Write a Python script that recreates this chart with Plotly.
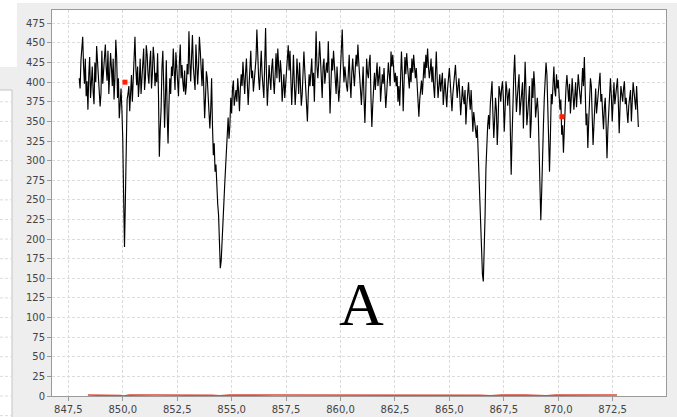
import numpy as np
import plotly.graph_objects as go

# Spectrum sampled on a regular wavelength grid (nm)
WL_START = 848.0
WL_STEP = 0.04
flux = [
    405, 392, 428, 441, 458, 420, 398, 430, 382, 401, 365, 410, 432, 380, 404, 420, 388, 372, 425, 400,
    446, 430, 412, 395, 369, 386, 440, 398, 416, 436, 448, 418, 402, 440, 385, 412, 437, 418, 395, 430,
    378, 405, 454, 432, 380, 405, 354, 372, 392, 365, 328, 255, 190, 250, 330, 378, 385, 395, 363, 388,
    409, 375, 398, 425, 458, 418, 396, 420, 381, 400, 430, 385, 408, 420, 443, 390, 405, 447, 435, 410,
    398, 425, 440, 392, 410, 445, 430, 395, 412, 400, 437, 385, 305, 340, 365, 418, 440, 395, 342, 380,
    428, 360, 322, 370, 405, 385, 420, 408, 443, 415, 390, 438, 420, 400, 382, 425, 448, 405, 422, 400,
    388, 415, 384, 395, 423, 410, 465, 425, 401, 432, 460, 420, 409, 390, 448, 430, 397, 420, 458, 440,
    422, 395, 430, 392, 354, 380, 414, 405, 388, 370, 341, 365, 405, 345, 307, 322, 286, 295, 256, 245,
    231, 198, 163, 172, 200, 232, 256, 268, 290, 318, 340, 355, 328, 345, 380, 360, 392, 402, 370, 385,
    390, 375, 405, 388, 363, 392, 410, 395, 426, 405, 385, 412, 430, 400, 371, 395, 428, 440, 405, 415,
    388, 400, 420, 430, 467, 428, 405, 390, 432, 440, 410, 398, 380, 425, 469, 410, 370, 395, 422, 405,
    390, 418, 430, 402, 385, 410, 437, 405, 443, 420, 400, 428, 412, 375, 395, 410, 380, 398, 426, 432,
    447, 415, 440, 405, 371, 400, 435, 398, 371, 392, 430, 410, 385, 425, 405, 370, 384, 410, 439, 415,
    390, 372, 350, 385, 410, 395, 422, 430, 395, 412, 375, 420, 465, 420, 405, 425, 452, 430, 405, 380,
    420, 430, 398, 410, 425, 412, 452, 410, 360, 395, 430, 415, 440, 422, 405, 385, 420, 398, 375, 392,
    415, 430, 467, 425, 400, 420, 405, 395, 388, 412, 435, 400, 380, 412, 430, 410, 395, 418, 435, 420,
    448, 425, 412, 390, 371, 398, 420, 380, 348, 385, 430, 412, 405, 425, 435, 380, 343, 370, 400, 412,
    390, 405, 425, 395, 405, 420, 375, 388, 410, 398, 418, 392, 367, 385, 405, 425, 410, 395, 439, 420,
    435, 415, 400, 412, 395, 408, 375, 395, 370, 405, 439, 410, 363, 400, 432, 410, 437, 420, 405, 392,
    418, 400, 430, 412, 435, 420, 405, 418, 395, 372, 356, 378, 390, 402, 384, 410, 426, 405, 435, 418,
    443, 420, 405, 415, 430, 400, 420, 395, 380, 410, 439, 405, 380, 395, 410, 388, 400, 412, 371, 390,
    405, 385, 368, 392, 410, 418, 400, 380, 363, 385, 398, 410, 422, 400, 380, 395, 405, 382, 358, 375,
    395, 380, 372, 390, 346, 370, 395, 400, 380, 365, 390, 360, 337, 362, 350, 340, 329, 345, 310, 285,
    231, 200, 176, 155, 146, 180, 230, 290, 333, 345, 358, 340, 371, 385, 401, 360, 329, 352, 380, 365,
    320, 350, 395, 388, 375, 392, 401, 380, 337, 365, 401, 390, 370, 385, 392, 340, 282, 330, 395, 410,
    435, 405, 362, 380, 395, 410, 358, 370, 380, 400, 341, 380, 426, 390, 345, 360, 375, 395, 329, 350,
    405, 380, 414, 395, 355, 370, 380, 362, 320, 270, 224, 260, 320, 345, 380, 400, 425, 410, 360, 330,
    286, 330, 385, 372, 405, 420, 390, 382, 410, 392, 403, 385, 365, 378, 333, 345, 310, 340, 375, 395,
    409, 390, 375, 398, 360, 380, 405, 385, 365, 382, 400, 368, 385, 410, 395, 380, 372, 395, 418, 395,
    432, 390, 345, 360, 316, 350, 385, 405, 395, 360, 320, 345, 375, 392, 360, 372, 385, 398, 412, 375,
    385, 360, 340, 368, 380, 345, 303, 340, 370, 390, 405, 382, 350, 375, 400, 372, 385, 398, 405, 375,
    335, 370, 395, 385, 375, 392, 401, 372, 380, 362, 348, 370, 380, 390, 350, 372, 400, 388, 380, 365,
    395, 372, 343,
]
wl = WL_START + WL_STEP * np.arange(len(flux))

# Marked reference points
ref_wl = [850.1, 870.17]
ref_flux = [400, 356]

# Residual curve near zero
red_wl = [848.4, 849.6, 849.9, 850.05, 850.3, 851.5, 853.0, 854.1, 854.45,
          854.9, 857.0, 860.0, 863.0, 866.4, 866.9, 867.4, 868.5, 869.0,
          869.45, 869.9, 871.0, 872.7]
red_val = [1.2, 1.2, 0.6, 0.1, 1.1, 1.2, 1.2, 0.9, 0.1, 1.1, 1.2, 1.2, 1.2,
           0.9, 0.2, 1.1, 1.2, 0.7, 0.2, 1.1, 1.2, 1.2]

X_TICKS = [847.5, 850.0, 852.5, 855.0, 857.5, 860.0, 862.5, 865.0, 867.5,
           870.0, 872.5]
X_TICK_TEXT = ["847,5", "850,0", "852,5", "855,0", "857,5", "860,0", "862,5",
               "865,0", "867,5", "870,0", "872,5"]
Y_TICKS = list(range(0, 476, 25))
X_RANGE = [846.75, 874.95]
Y_MAX = 492

fig = go.Figure()
fig.add_trace(go.Scatter(x=red_wl, y=red_val, mode="lines",
                         line=dict(color="#dd4b39", width=1.6)))
fig.add_trace(go.Scatter(x=wl, y=flux, mode="lines",
                         line=dict(color="black", width=1.15)))
fig.add_trace(go.Scatter(x=ref_wl, y=ref_flux, mode="markers",
                         marker=dict(symbol="square", size=5, color="#ff2200",
                                     line=dict(width=0))))

grid = dict(showgrid=True, gridcolor="#dcdcdc", gridwidth=1, griddash="3px,2px")
axis_common = dict(showline=True, linecolor="#9a9a9a", linewidth=1, mirror=True,
                   ticks="outside", ticklen=4, tickcolor="#9a9a9a",
                   zeroline=False, automargin=False,
                   tickfont=dict(family="DejaVu Sans", size=10, color="#444444"),
                   **grid)

fig.update_xaxes(range=X_RANGE, tickvals=X_TICKS, ticktext=X_TICK_TEXT,
                 **axis_common)
fig.update_yaxes(range=[0, Y_MAX], tickvals=Y_TICKS, **axis_common)

# Decorative side panel on the left edge of the window
L, W, T, B, H = 52, 614, 10, 21, 386
def px(x):
    return (x - L) / W
def py(y):
    return (396 - y) / H

shapes = [
    dict(type="rect", xref="paper", yref="paper", x0=px(0), x1=px(17),
         y0=py(67), y1=py(0), fillcolor="white", line=dict(width=0), layer="below"),
    dict(type="rect", xref="paper", yref="paper", x0=px(0), x1=px(677),
         y0=py(3), y1=py(0), fillcolor="white", line=dict(width=0), layer="below"),
    dict(type="rect", xref="paper", yref="paper", x0=px(-2), x1=px(12),
         y0=py(420), y1=py(90), fillcolor="white",
         line=dict(width=1, color="#c4c4c4"), layer="below"),
]
for v in range(-25, 400, 25):
    shapes.append(dict(type="line", xref="paper", yref="paper", x0=px(0),
                       x1=px(11), y0=v / Y_MAX, y1=v / Y_MAX,
                       line=dict(color="#dcdcdc", width=1, dash="3px,2px"),
                       layer="below"))

fig.update_layout(
    width=677, height=417,
    margin=dict(l=L, r=11, t=T, b=B, autoexpand=False),
    paper_bgcolor="#eeeeee", plot_bgcolor="white",
    showlegend=False,
    shapes=shapes,
    annotations=[dict(x=860.96, y=117, text="A", showarrow=False,
                      font=dict(family="Liberation Serif", size=62, color="black"))],
)

fig.write_html("out.html")
